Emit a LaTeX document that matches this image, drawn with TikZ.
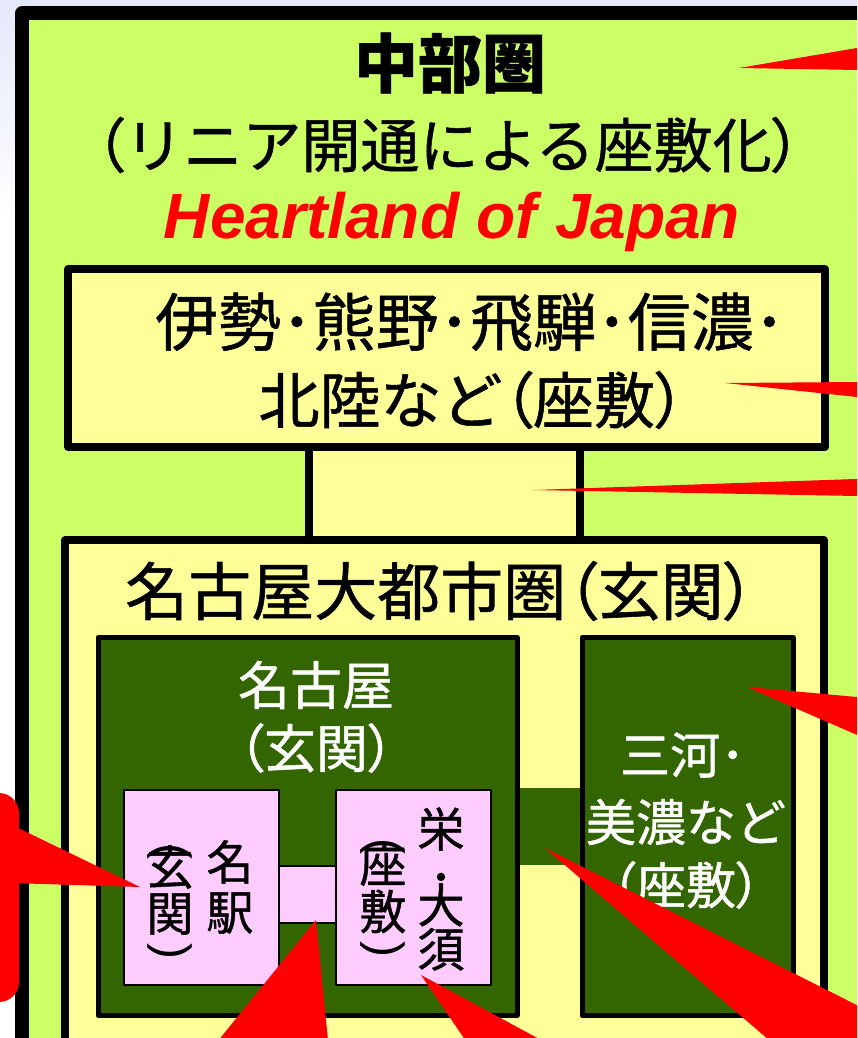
\documentclass[tikz,border=0pt]{standalone}
\usepackage{fontspec}
\newfontfamily\jp[FakeBold=0.9]{Noto Sans CJK JP}
\newfontfamily\jpp[RawFeature=+palt,FakeBold=0.9]{Noto Sans CJK JP}
\newfontfamily\arialf{Liberation Sans}
\newcommand\jlp{{\jpp （}}
\newcommand\jrp{{\jpp ）}}
\definecolor{limebg}{HTML}{CCFF66}
\definecolor{yelbg}{HTML}{FFFF99}
\definecolor{dkgreen}{HTML}{336600}
\definecolor{pinkbg}{HTML}{FFCCFF}
\definecolor{calloutred}{HTML}{FF0000}
\definecolor{slidetop}{RGB}{228,232,250}
\begin{document}
\begin{tikzpicture}[x=1pt,y=-1pt,line join=round,
  frame/.style={draw=black,line width=14pt,fill=limebg},
  ybox/.style={draw=black,line width=7.5pt,fill=yelbg},
  gbox/.style={draw=black,line width=5pt,fill=dkgreen},
  pbox/.style={draw=black,line width=2pt,fill=pinkbg},
  callout/.style={fill=calloutred},
  jt/.style={inner sep=0pt,anchor=center},
  jsz/.style={font=\jp\fontsize{#1}{#1}\selectfont},
  vcol/.style 2 args={inner sep=0pt,align=center,font=\jp\fontsize{#1}{#2}\selectfont},
  arc/.style={inner sep=0pt,font=\arialf\fontsize{48}{48}\selectfont,rotate=-90}]
\useasboundingbox (0,0) rectangle (857,1038);
\clip (0,0) rectangle (857,1038);
\fill[white] (0,0) rectangle (857,1038);
\shade[top color=slidetop,bottom color=white] (0,0) rectangle (857,220);
% outer frame
\path[frame] (22,13.5) rectangle (920,1120);
% upper yellow box and its link
\path[ybox] (68,269) rectangle (825,447);
\path[ybox] (309,447) rectangle (580,541);
% metro box
\path[ybox] (65,540) rectangle (824,1120);
% dark green boxes
\path[gbox] (98,637.5) rectangle (517,1015.5);
\path[gbox] (582,637.5) rectangle (793,1015.5);
\fill[dkgreen] (519.5,788) rectangle (579.5,865);
% pink boxes
\path[pbox] (124,789.5) rectangle (279,985);
\path[pbox] (335.5,789.5) rectangle (490.5,985);
\path[pbox] (279,865.5) rectangle (335.5,922.5);
% texts
\node[jt,font=\jp\bfseries\fontsize{64}{64}\selectfont] (t1) at (450,63) {中部圏};
\node[jt,jsz=59] (t2) at (448,145) {\jlp リニア開通による座敷化\jrp};
\node[inner sep=0pt,anchor=base,text=calloutred,font=\arialf\bfseries\itshape\fontsize{64}{64}\selectfont] (t3) at (452,238) {Heartland of Japan};
\node[jt,jsz=63,anchor=west] (b1a) at (155,322) {伊勢･熊野･飛騨･信濃･};
\node[jt,jsz=61] (b1b) at (472,400) {北陸など\jlp 座敷\jrp};
\node[jt,jsz=63,anchor=west] (m1) at (125,591) {名古屋大都市圏\jlp 玄関\jrp};
\node[jt,jsz=52,text=white] (g1a) at (316,685) {名古屋};
\node[jt,jsz=52,text=white] (g1b) at (316,748) {\jlp 玄関\jrp};
\node[jt,jsz=50,text=white,anchor=west] (g2a) at (620,755) {三河･};
\node[jt,jsz=50,text=white] (g2b) at (686,822) {美濃など};
\node[jt,jsz=50,text=white] (g2c) at (686,885) {\jlp 座敷\jrp};
% vertical texts
\node[vcol={47}{50}] (p1a) at (230,887) {名\\駅};
\node[vcol={47}{46}] (p1b) at (170,890) {玄\\関};
\node[arc] (p1o) at (170,851) {(};
\node[arc] (p1c) at (170,951) {)};
\node[vcol={47}{47}] (p2b) at (383,888) {座\\敷};
\node[arc] (p2o) at (383,846) {(};
\node[arc] (p2c) at (383,949) {)};
\node[vcol={47}{44}] (p2a) at (441,889) {栄\\[4pt]･\\[-16pt]大\\須};
% red callout wedges
\fill[callout] (739,68) -- (900,40.7) -- (900,70.7) -- cycle;
\fill[callout] (725,383) -- (900,381.7) -- (900,401.6) -- cycle;
\fill[callout] (533,490) -- (900,477.5) -- (900,496.8) -- cycle;
\fill[callout] (747,687) -- (900,700.9) -- (900,753.7) -- cycle;
\fill[callout] (545,848) -- (950,1052) -- (839,1100) -- cycle;
\fill[callout] (421,975) -- (652,1100) -- (506,1100) -- cycle;
\fill[callout] (316,920) -- (170,1100) -- (334,1100) -- cycle;
\fill[callout,rounded corners=20pt] (-60,793) rectangle (19,1002);
\fill[callout] (10,824) -- (140,887) -- (10,883) -- cycle;
\end{tikzpicture}
\end{document}
